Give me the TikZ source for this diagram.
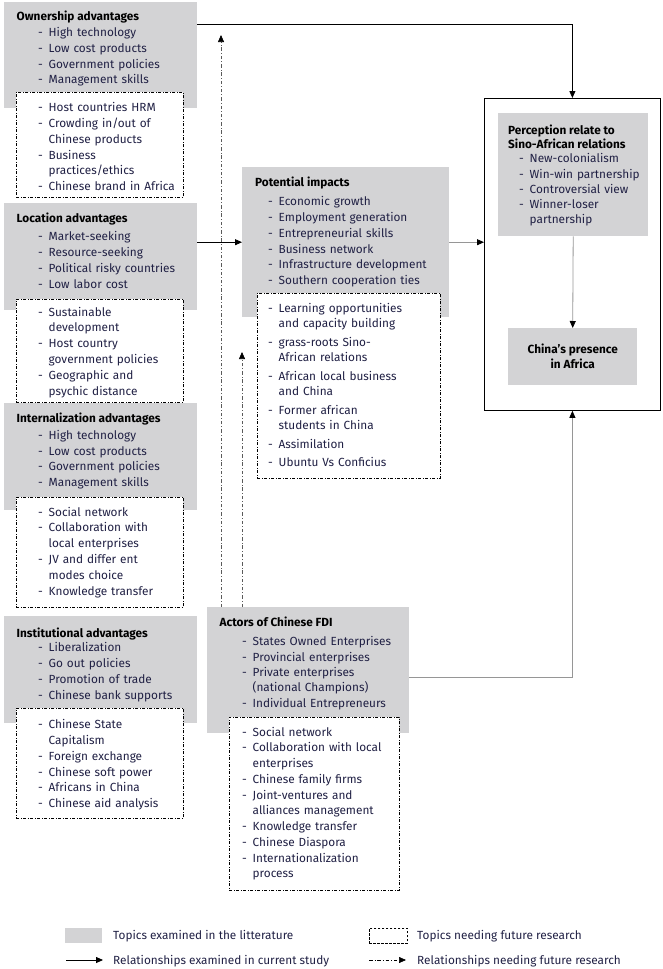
\documentclass[tikz,border=0pt]{standalone}
\usepackage{fontspec}
\setmainfont{Fira Sans}
\usetikzlibrary{arrows.meta}
\definecolor{topicgray}{RGB}{211,211,213}
\definecolor{itemblue}{RGB}{32,32,68}
\definecolor{linkgray}{RGB}{150,150,150}
\definecolor{dashgray}{RGB}{90,90,90}
\setlength{\parindent}{0pt}
\newcommand{\itm}[1]{\hangindent=10.5pt\hangafter=1\makebox[10.5pt][l]{-}#1\par}
\tikzset{
  topic/.style={fill=topicgray, draw=none, anchor=north west, inner sep=0pt},
  future/.style={draw, fill=white, line width=0.7pt, dash pattern=on 3pt off 1.6pt on 0.8pt off 1.6pt, anchor=north west, inner sep=0pt},
  head/.style={anchor=base west, inner sep=0pt, align=left, font=\bfseries\fontsize{11.8}{14}\selectfont},
  list/.style={anchor=base west, inner sep=0pt, text width=200pt, align=left, text=itemblue, font=\fontsize{11.8}{15.8}\selectfont},
  link/.style={-{Triangle[length=7pt,width=6pt]}, line width=0.8pt},
  graylink/.style={link, draw=linkgray, -{Triangle[length=7pt,width=6pt,color=black]}},
  futurelink/.style={-{Triangle[length=7pt,width=6pt,color=black]}, line width=0.6pt, draw=dashgray, dash pattern=on 3.5pt off 2pt on 0.8pt off 2pt},
}
\begin{document}
\begin{tikzpicture}[x=1pt,y=-1pt]
\useasboundingbox (0,0) rectangle (662,969);
% gray topic boxes
\node[topic, minimum width=193, minimum height=106] (own) at (4,2) {};
\node[topic, minimum width=193, minimum height=107] (loc) at (4,203) {};
\node[topic, minimum width=193, minimum height=107] (int) at (4,403) {};
\node[topic, minimum width=193, minimum height=107] (ins) at (4,616) {};
\node[topic, minimum width=207, minimum height=150] (pot) at (242,167) {};
\node[topic, minimum width=202, minimum height=126] (act) at (207,607) {};
\node[draw, line width=0.8pt, anchor=north west, inner sep=0pt, minimum width=176, minimum height=312] (frame) at (484,98) {};
\node[topic, minimum width=150, minimum height=123] (per) at (498,113) {};
\node[topic, minimum width=129, minimum height=57, align=center, font=\bfseries\fontsize{11.8}{15}\selectfont] (chi) at (508,328) {China's presence\\in Africa};
% dashed future boxes
\node[future, minimum width=167, minimum height=105] (own-f) at (16,92) {};
\node[future, minimum width=167, minimum height=103] (loc-f) at (16,299) {};
\node[future, minimum width=167, minimum height=110] (int-f) at (16,497) {};
\node[future, minimum width=167, minimum height=110] (ins-f) at (16,708) {};
\node[future, minimum width=183, minimum height=185] (pot-f) at (257,293) {};
\node[future, minimum width=170, minimum height=173] (act-f) at (229,717) {};
% ownership
\node[head] (own-h) at (16.5,20) {Ownership advantages};
\node[list] (own-l) at (38,36.5) {\itm{High technology}\itm{Low cost\ products}\itm{Government policies}\itm{Management skills}};
\node[list] (own-fl) at (38,111.7) {\itm{Host countries HRM}\itm{Crowding in/out of\newline Chinese products}\itm{Business\newline practices/ethics}\itm{Chinese brand in Africa}};
% location
\node[head] (loc-h) at (16.5,222.7) {Location advantages};
\node[list] (loc-l) at (38,240.7) {\itm{Market-seeking}\itm{Resource-seeking}\itm{Political risky countries}\itm{Low labor cost}};
\node[list] (loc-fl) at (38,316) {\itm{Sustainable\newline development}\itm{Host country\newline government policies}\itm{Geographic and\newline psychic distance}};
% internalization
\node[head] (int-h) at (16.5,422.7) {Internalization advantages};
\node[list] (int-l) at (38,439.3) {\itm{High technology}\itm{Low cost products}\itm{Government policies}\itm{Management skills}};
\node[list] (int-fl) at (38,516) {\itm{Social network}\itm{Collaboration with\newline local enterprises}\itm{JV and differ ent\newline modes choice}\itm{Knowledge transfer}};
% institutional
\node[head] (ins-h) at (16.5,637.3) {Institutional advantages};
\node[list] (ins-l) at (38,651.7) {\itm{Liberalization}\itm{Go out policies}\itm{Promotion of trade}\itm{Chinese bank supports}};
\node[list] (ins-fl) at (38,728.7) {\itm{Chinese State\newline Capitalism}\itm{Foreign exchange}\itm{Chinese soft power}\itm{Africans in China}\itm{Chinese aid analysis}};
% potential impacts
\node[head] (pot-h) at (255,186.7) {Potential impacts};
\node[list] (pot-l) at (268,205.7) {\itm{Economic growth}\itm{Employment generation}\itm{Entrepreneurial skills}\itm{Business network}\itm{Infrastructure development}\itm{Southern cooperation ties}};
\node[list, font=\fontsize{11.8}{15.7}\selectfont\setlength{\parskip}{2.6pt}] (pot-fl) at (268,312) {\itm{Learning opportunities\newline and capacity building}\itm{grass-roots Sino-\newline African relations}\itm{African local business\newline and China}\itm{Former african\newline students in China}\itm{Assimilation}\itm{Ubuntu Vs Conficius}};
% perception
\node[head] (per-h) at (508,148.3) {Perception relate to\\Sino-African relations};
\node[list, font=\fontsize{11.8}{15.3}\selectfont] (per-l) at (519,162.7) {\itm{New-colonialism}\itm{Win-win partnership}\itm{Controversial view}\itm{Winner-loser\newline partnership}};
% actors
\node[head] (act-h) at (219.5,626.7) {Actors of Chinese FDI};
\node[list, font=\fontsize{11.8}{15.4}\selectfont] (act-l) at (242,645.7) {\itm{States Owned Enterprises}\itm{Provincial enterprises}\itm{Private enterprises\newline (national Champions)}\itm{Individual Entrepreneurs}};
\node[list, font=\fontsize{11.8}{15.75}\selectfont] (act-fl) at (242,736) {\itm{Social network}\itm{Collaboration with local\newline enterprises}\itm{Chinese family firms}\itm{Joint-ventures and\newline alliances management}\itm{Knowledge transfer}\itm{Chinese Diaspora}\itm{Internationalization\newline process}};
% connectors
\draw[link] ([yshift=-22pt]own.north east) -| (frame.north);
\draw[link] (loc.east |- pot.west) -- (pot.west);
\draw[graylink] (pot.east) -- (pot.east -| frame.west);
\draw[graylink] (per.south) -- (chi.north);
\draw[graylink] ([yshift=-7pt]act.east) -| (frame.south);
\coordinate (fut-top) at (221,35);
\coordinate (fut-mid) at (242,352);
\draw[futurelink] ([xshift=14pt]act.north west) -- (fut-top);
\draw[futurelink] ([xshift=35pt]act.north west) -- (fut-mid);
% legend
\node[topic, minimum width=37, minimum height=15] (key-topic) at (65,928) {};
\node[list, text width=] (key-topic-t) at (113,939.5) {Topics examined in the litterature};
\node[future, dash pattern=on 2.5pt off 1.5pt, fill=none, minimum width=38, minimum height=15] (key-future) at (369,928) {};
\node[list, text width=] (key-future-t) at (417,939.5) {Topics needing future research};
\coordinate (key-a1) at (66,960);
\coordinate (key-a2) at (103,960);
\coordinate (key-b1) at (369,960);
\coordinate (key-b2) at (406,960);
\draw[link] (key-a1) -- (key-a2);
\draw[futurelink, draw=black] (key-b1) -- (key-b2);
\node[list, text width=] (key-link-t) at (113,964) {Relationships examined in current study};
\node[list, text width=] (key-flink-t) at (417,964) {Relationships needing future research};
\end{tikzpicture}
\end{document}
